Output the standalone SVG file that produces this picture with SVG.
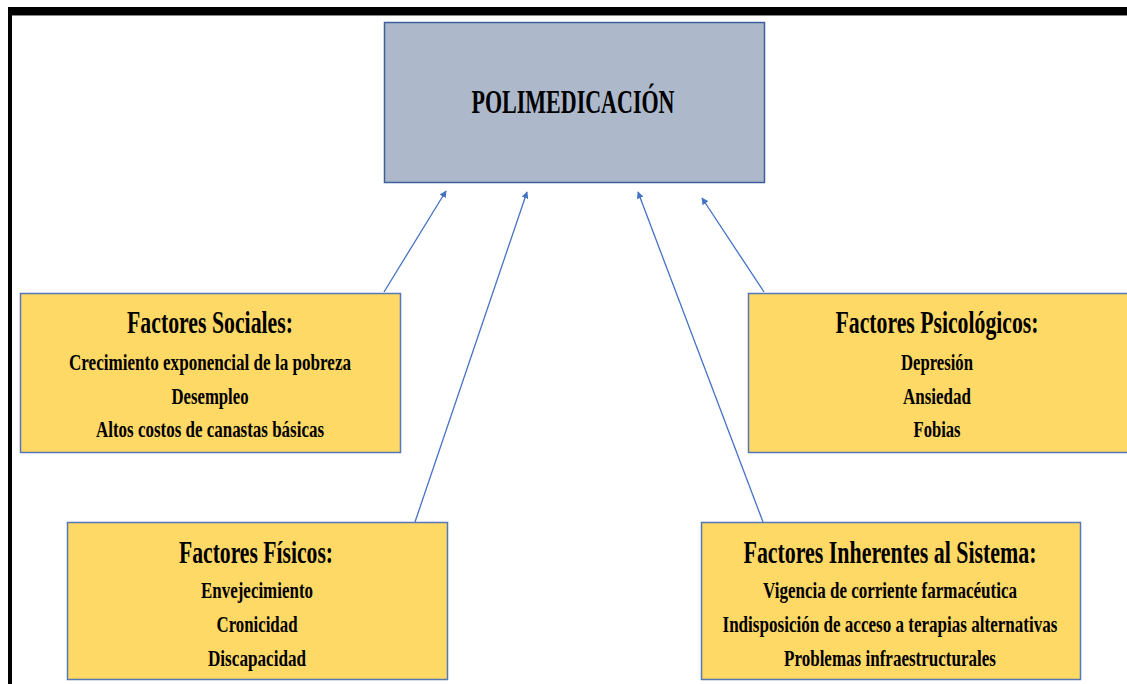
<svg xmlns="http://www.w3.org/2000/svg" width="1127" height="684" viewBox="0 0 1127 684">
<style>
.t{font-family:"Liberation Serif","Times New Roman",serif;font-weight:bold;fill:#000;text-anchor:middle}
.h{font-size:32px}
.s{font-size:23px}
.y{fill:#FFD966;stroke:#5577B5;stroke-width:1.5}
.c{stroke:#4472C4;stroke-width:1.3;fill:none;marker-end:url(#ah)}
</style>
<defs>
<marker id="ah" viewBox="0 0 10 10" refX="9" refY="5" markerWidth="7" markerHeight="7" markerUnits="userSpaceOnUse" orient="auto">
<path d="M0,0 L10,5 L0,10 z" fill="#4472C4"/>
</marker>
</defs>
<rect width="1127" height="684" fill="#fff"/>
<rect x="8" y="7" width="1119" height="8" fill="#000"/>
<rect x="8" y="15" width="1119" height="1" fill="#888"/>
<rect x="8" y="7" width="4" height="677" fill="#000"/>
<g id="connectors">
<line class="c" x1="384" y1="292" x2="446" y2="191"/>
<line class="c" x1="415" y1="522" x2="527" y2="192"/>
<line class="c" x1="763" y1="522" x2="638" y2="192"/>
<line class="c" x1="764" y1="292" x2="702" y2="198"/>
</g>
<g id="polimedicacion">
<rect x="384.5" y="22.5" width="380" height="160" fill="#ADB9CA" stroke="#3E5F9C" stroke-width="1.5"/>
<text class="t" x="573" y="113" font-size="34" textLength="203" lengthAdjust="spacingAndGlyphs">POLIMEDICACIÓN</text>
</g>
<g id="sociales">
<rect class="y" x="20.5" y="293.5" width="380" height="159"/>
<text class="t h" x="210" y="333" textLength="166" lengthAdjust="spacingAndGlyphs">Factores Sociales:</text>
<text class="t s" x="210" y="370" textLength="282" lengthAdjust="spacingAndGlyphs">Crecimiento exponencial de la pobreza</text>
<text class="t s" x="210" y="404" textLength="77" lengthAdjust="spacingAndGlyphs">Desempleo</text>
<text class="t s" x="210" y="437" textLength="228" lengthAdjust="spacingAndGlyphs">Altos costos de canastas básicas</text>
</g>
<g id="psicologicos">
<rect class="y" x="748.5" y="293.5" width="380" height="159"/>
<text class="t h" x="937" y="333" textLength="203" lengthAdjust="spacingAndGlyphs">Factores Psicológicos:</text>
<text class="t s" x="937" y="370" textLength="72" lengthAdjust="spacingAndGlyphs">Depresión</text>
<text class="t s" x="937" y="404" textLength="68" lengthAdjust="spacingAndGlyphs">Ansiedad</text>
<text class="t s" x="937" y="437" textLength="47" lengthAdjust="spacingAndGlyphs">Fobias</text>
</g>
<g id="fisicos">
<rect class="y" x="67.5" y="522.5" width="380" height="157"/>
<text class="t h" x="256" y="563" textLength="154" lengthAdjust="spacingAndGlyphs">Factores Físicos:</text>
<text class="t s" x="257" y="598" textLength="112" lengthAdjust="spacingAndGlyphs">Envejecimiento</text>
<text class="t s" x="257" y="632" textLength="81" lengthAdjust="spacingAndGlyphs">Cronicidad</text>
<text class="t s" x="257" y="666" textLength="98" lengthAdjust="spacingAndGlyphs">Discapacidad</text>
</g>
<g id="inherentes">
<rect class="y" x="701.5" y="522.5" width="379" height="157"/>
<text class="t h" x="890" y="563" textLength="293" lengthAdjust="spacingAndGlyphs">Factores Inherentes al Sistema:</text>
<text class="t s" x="890" y="598" textLength="254" lengthAdjust="spacingAndGlyphs">Vigencia de corriente farmacéutica</text>
<text class="t s" x="890" y="632" textLength="335" lengthAdjust="spacingAndGlyphs">Indisposición de acceso a terapias alternativas</text>
<text class="t s" x="890" y="666" textLength="212" lengthAdjust="spacingAndGlyphs">Problemas infraestructurales</text>
</g>
</svg>
